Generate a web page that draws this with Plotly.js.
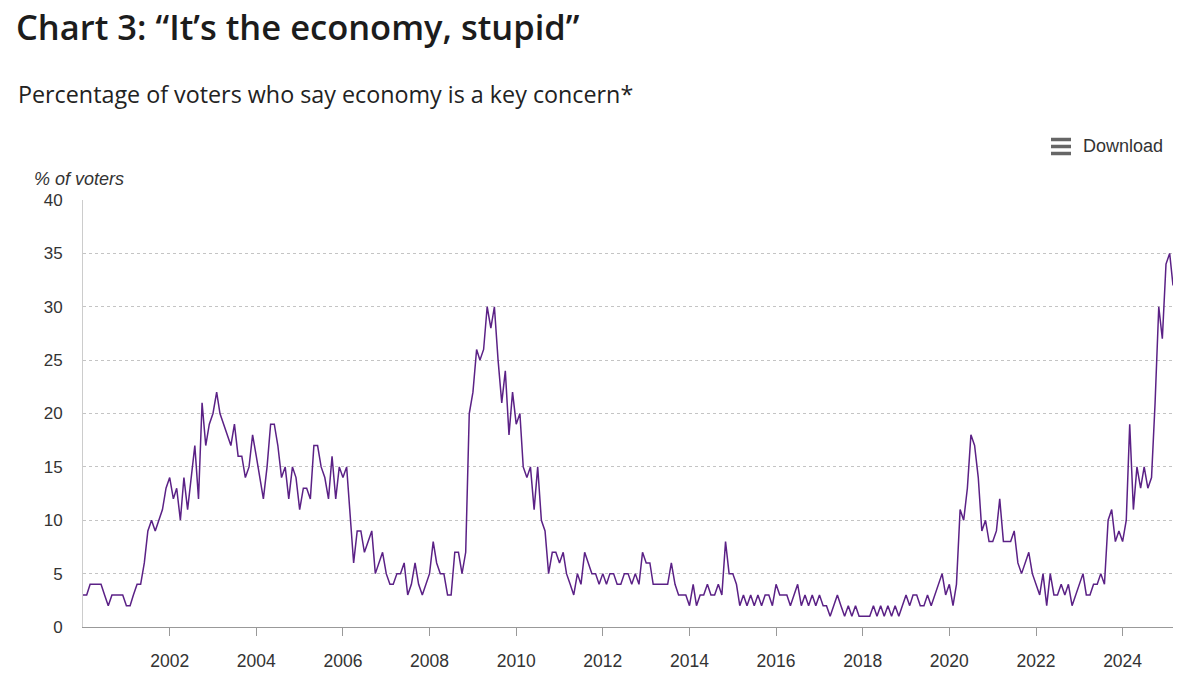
<!DOCTYPE html>
<html>
<head>
<meta charset="utf-8">
<script src="https://cdn.plot.ly/plotly-3.0.1.min.js"></script>
<style>
  html, body { margin: 0; padding: 0; background: #fff; }
  #chart { width: 1200px; height: 693px; }
</style>
</head>
<body>
<div id="chart"></div>
<script>
// Monthly values, % of voters naming the economy as a key concern (Jan 2000 onward)
const v2000 = [3,3,4,4,4,4,3,2,3,3,3,3];
const v2001 = [2,2,3,4,4,6,9,10,9,10,11,13];
const v2002 = [14,12,13,10,14,11,14,17,12,21,17,19];
const v2003 = [20,22,20,19,18,17,19,16,16,14,15,18];
const v2004 = [16,14,12,15,19,19,17,14,15,12,15,14];
const v2005 = [11,13,13,12,17,17,15,14,12,16,12,15];
const v2006 = [14,15,11,6,9,9,7,8,9,5,6,7];
const v2007 = [5,4,4,5,5,6,3,4,6,4,3,4];
const v2008 = [5,8,6,5,5,3,3,7,7,5,7,20];
const v2009 = [22,26,25,26,30,28,30,25,21,24,18,22];
const v2010 = [19,20,15,14,15,11,15,10,9,5,7,7];
const v2011 = [6,7,5,4,3,5,4,7,6,5,5,4];
const v2012 = [5,4,5,5,4,4,5,5,4,5,4,7];
const v2013 = [6,6,4,4,4,4,4,6,4,3,3,3];
const v2014 = [2,4,2,3,3,4,3,3,4,3,8,5];
const v2015 = [5,4,2,3,2,3,2,3,2,3,3,2];
const v2016 = [4,3,3,3,2,3,4,2,3,2,3,2];
const v2017 = [3,2,2,1,2,3,2,1,2,1,2,1];
const v2018 = [1,1,1,2,1,2,1,2,1,2,1,2];
const v2019 = [3,2,3,3,2,2,3,2,3,4,5,3];
const v2020 = [4,2,4,11,10,13,18,17,14,9,10,8];
const v2021 = [8,9,12,8,8,8,9,6,5,6,7,5];
const v2022 = [4,3,5,2,5,3,3,4,3,4,2,3];
const v2023 = [4,5,3,3,4,4,5,4,10,11,8,9];
const v2024 = [8,10,19,11,15,13,15,13,14,21,30,27];
const v2025 = [34,35,32];

const startYear = 2000;
const tickYears = [2002,2004,2006,2008,2010,2012,2014,2016,2018,2020,2022,2024];
const yTicks = [0,5,10,15,20,25,30,35,40];

const values = [].concat(v2000,v2001,v2002,v2003,v2004,v2005,v2006,v2007,v2008,v2009,
  v2010,v2011,v2012,v2013,v2014,v2015,v2016,v2017,v2018,v2019,v2020,v2021,v2022,v2023,v2024,v2025);

function pad(n){ return (n < 10 ? '0' : '') + n; }
const dates = values.map((_, i) => {
  const y = startYear + Math.floor(i / 12);
  const m = (i % 12) + 1;
  return y + '-' + pad(m) + '-01';
});

const trace = {
  x: dates,
  y: values,
  type: 'scatter',
  mode: 'lines',
  line: { color: '#5b2186', width: 1.5 },
  hoverinfo: 'x+y'
};

// plot area in pixels: left 83, right 1173, top 200, bottom 627
const L = 83, R = 1173, T = 200, B = 627;
const px = x => (x - L) / (R - L);
const py = y => (B - y) / (B - T);

const iconShapes = [139.5, 146.5, 153.5].map(yy => ({
  type: 'line', xref: 'paper', yref: 'paper',
  x0: px(1051), x1: px(1071), y0: py(yy), y1: py(yy),
  line: { color: '#666666', width: 3.5 }
}));

const layout = {
  width: 1200, height: 693,
  margin: { l: L, r: 1200 - R, t: T, b: 693 - B, pad: 0 },
  paper_bgcolor: '#ffffff',
  plot_bgcolor: '#ffffff',
  font: { family: 'Liberation Sans, Arial, sans-serif', color: '#333333' },
  showlegend: false,
  title: {
    text: 'Chart 3: “It’s the economy, stupid”',
    font: { family: 'Open Sans, sans-serif', size: 34.5, color: '#1c1c1c', weight: 600 },
    xref: 'container', yref: 'container',
    x: 16 / 1200, xanchor: 'left',
    y: 1 - 28 / 693, yanchor: 'middle'
  },
  xaxis: {
    type: 'date',
    range: ['2000-01-01', '2025-03-01'],
    tickvals: tickYears.map(y => y + '-01-01'),
    ticktext: tickYears.map(String),
    ticks: 'outside', ticklen: 8, tickcolor: '#999999', tickwidth: 1,
    ticklabelstandoff: 10,
    showline: true, linecolor: '#999999', linewidth: 1,
    showgrid: false, zeroline: false,
    tickfont: { size: 17.5, color: '#333333' },
    fixedrange: true
  },
  yaxis: {
    range: [0, 40],
    tickvals: yTicks,
    ticks: '', ticklabelstandoff: 16,
    showline: true, linecolor: '#cccccc', linewidth: 1,
    showgrid: true, gridcolor: '#c4c4c4', griddash: 'dot', gridwidth: 1,
    zeroline: false,
    tickfont: { size: 17, color: '#333333' },
    fixedrange: true
  },
  shapes: iconShapes,
  annotations: [
    {
      text: 'Percentage of voters who say economy is a key concern*',
      xref: 'paper', yref: 'paper', x: px(16), y: py(94),
      xanchor: 'left', yanchor: 'middle', showarrow: false,
      font: { family: 'Open Sans, sans-serif', size: 23.3, color: '#222222' }
    },
    {
      text: '<i>% of voters</i>',
      xref: 'paper', yref: 'paper', x: px(32), y: py(179),
      xanchor: 'left', yanchor: 'middle', showarrow: false,
      font: { size: 18, color: '#333333' }
    },
    {
      text: 'Download',
      xref: 'paper', yref: 'paper', x: px(1081), y: py(146),
      xanchor: 'left', yanchor: 'middle', showarrow: false,
      font: { size: 18, color: '#333333' }
    }
  ]
};

Plotly.newPlot('chart', [trace], layout, { displayModeBar: false, staticPlot: false });
</script>
</body>
</html>
